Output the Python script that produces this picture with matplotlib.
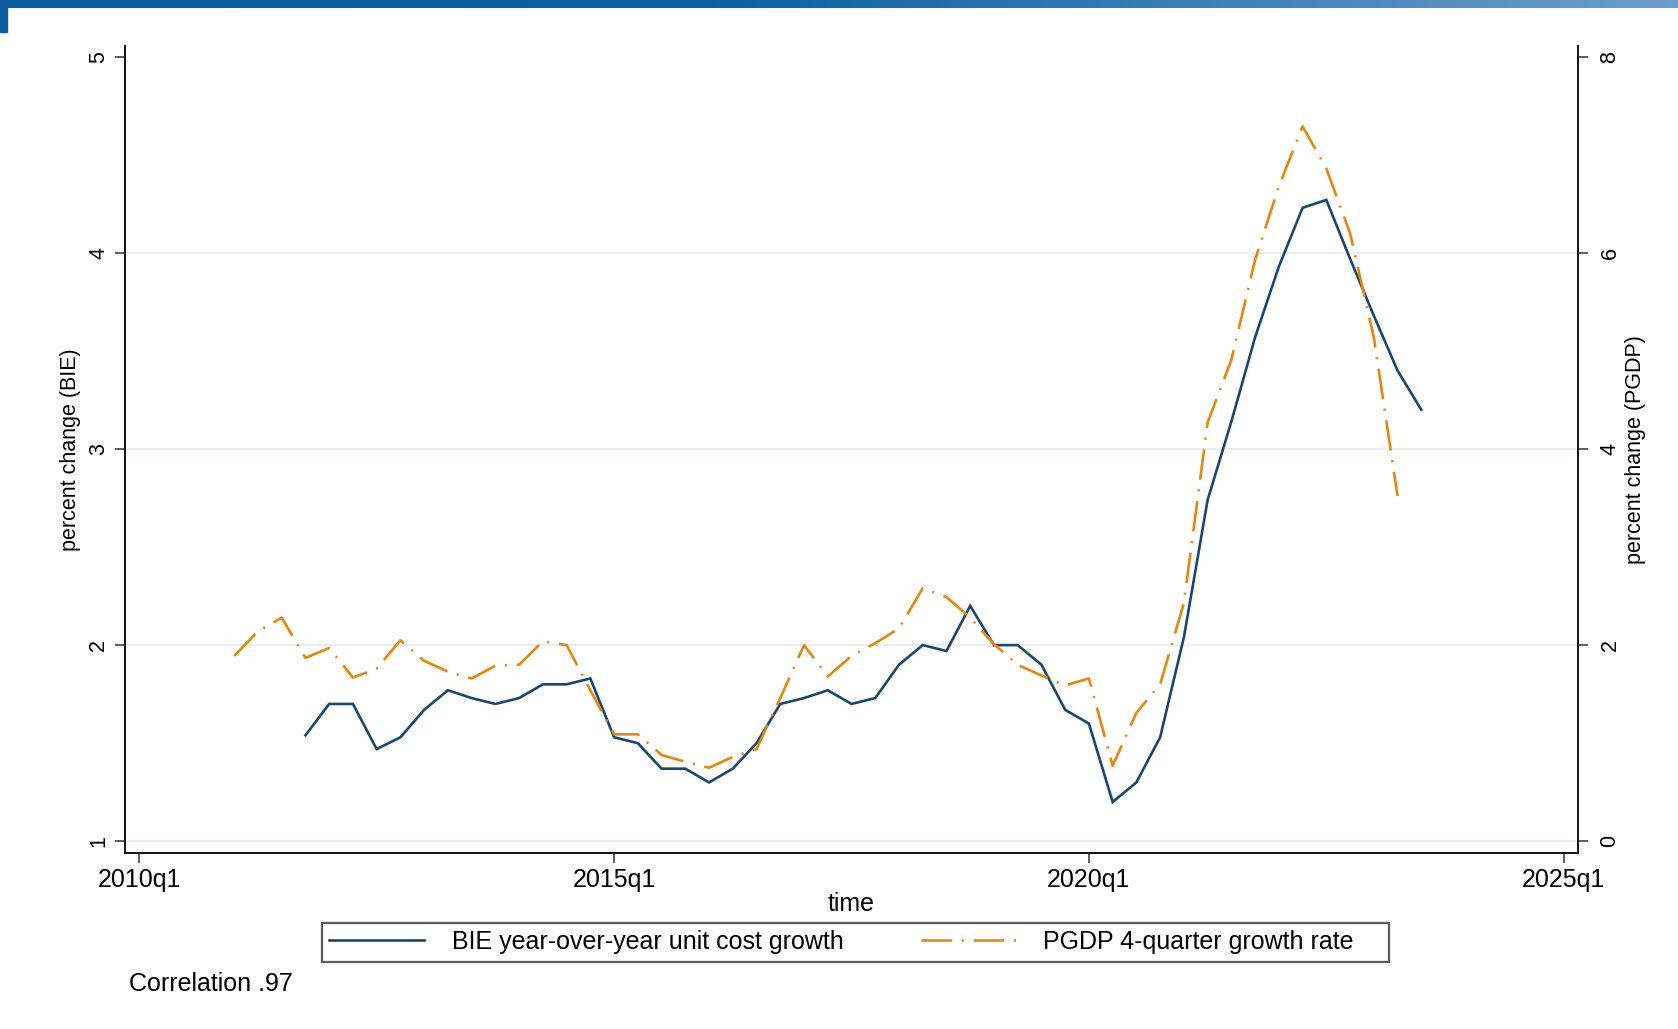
"""
BIE unit cost growth vs PGDP 4-quarter growth, Stata-style twin-axis line chart.
Saves out.png.
"""

import numpy as np
import matplotlib.pyplot as plt
from matplotlib.colors import LinearSegmentedColormap
from matplotlib.patches import Rectangle

# quarter index 0 = 2010q1
bie_start = 7      # 2011q4
bie = [1.54, 1.70, 1.70, 1.47, 1.53, 1.67, 1.77, 1.73, 1.70, 1.73,
       1.80, 1.80, 1.83, 1.53, 1.50, 1.37, 1.37, 1.30, 1.37, 1.50,
       1.70, 1.73, 1.77, 1.70, 1.73, 1.90, 2.00, 1.97, 2.20, 2.00,
       2.00, 1.90, 1.67, 1.60, 1.20, 1.30, 1.53, 2.04, 2.74, 3.14,
       3.57, 3.93, 4.23, 4.27, 3.97, 3.68, 3.40, 3.20]

pgdp_start = 4     # 2011q1
pgdp = [1.89, 2.14, 2.28, 1.87, 1.97, 1.67, 1.76, 2.05, 1.84, 1.73,
        1.66, 1.79, 1.80, 2.04, 2.00, 1.54, 1.09, 1.09, 0.88, 0.81,
        0.75, 0.86, 0.94, 1.46, 2.00, 1.68, 1.89, 2.02, 2.17, 2.58,
        2.49, 2.28, 2.01, 1.80, 1.69, 1.59, 1.66, 0.77, 1.31, 1.60,
        2.43, 4.27, 4.91, 5.93, 6.68, 7.29, 6.86, 6.20, 5.14, 3.52]

xtick_pos = [0, 20, 40, 60]
xtick_labels = ['2010q1', '2015q1', '2020q1', '2025q1']
left_ticks = [1, 2, 3, 4, 5]
right_ticks = [0, 2, 4, 6, 8]

NAVY = '#1a476f'
ORANGE = '#e8870e'
FONT = 'Liberation Sans'

plt.rcParams['font.family'] = [FONT, 'DejaVu Sans']
plt.rcParams['lines.scale_dashes'] = False

W, H = 1678, 1029
fig = plt.figure(figsize=(W / 100, H / 100), dpi=100)

# plot region
ax = fig.add_axes([125 / W, 1 - 853 / H, (1578 - 125) / W, (853 - 46) / H])
ax2 = ax.twinx()

x_bie = np.arange(bie_start, bie_start + len(bie))
x_pgdp = np.arange(pgdp_start, pgdp_start + len(pgdp))

ax.plot(x_bie, bie, color=NAVY, lw=1.9, solid_joinstyle='miter',
        label='BIE year-over-year unit cost growth', zorder=3)
ax2.plot(x_pgdp, pgdp, color=ORANGE, lw=1.9, dashes=(22, 7, 1.5, 7),
         label='PGDP 4-quarter growth rate    ', zorder=3)

lo, hi = 0.94, 5.055
ax.set_ylim(lo, hi)
ax2.set_ylim(2 * (lo - 1), 2 * (hi - 1))
ax.set_xlim(-0.6, 60.6)

ax.set_yticks(left_ticks)
ax2.set_yticks(right_ticks)
ax.set_xticks(xtick_pos)
ax.set_xticklabels(xtick_labels)

for a in (ax, ax2):
    a.spines['top'].set_visible(False)
    for s in a.spines.values():
        s.set_linewidth(1.4)
        s.set_color('#111111')
    a.tick_params(axis='y', length=7.5, width=1.2, color='#444444',
                  labelsize=15.5, pad=4)
ax2.spines['left'].set_visible(False)
ax.spines['right'].set_visible(False)
ax2.tick_params(axis='y', pad=8)
ax.tick_params(axis='x', length=7.5, width=1.2, color='#444444',
               labelsize=18, pad=3.5)

for lab in ax.get_yticklabels():
    lab.set_rotation(90)
    lab.set_va('center')
    lab.set_ha('right')
for lab in ax2.get_yticklabels():
    lab.set_rotation(90)
    lab.set_va('center')
    lab.set_ha('left')

# light gridlines, none at the top tick
ax.grid(axis='y', color='#e8eff1', lw=1.5, zorder=0)
ax.get_ygridlines()[-1].set_visible(False)
ax.set_axisbelow(True)

ax.set_xlabel('time', fontsize=18, labelpad=0)
ax.set_ylabel('percent change (BIE)', fontsize=15.5, labelpad=5)
ax2.set_ylabel('percent change (PGDP)', fontsize=15.5, labelpad=3)

h1, l1 = ax.get_legend_handles_labels()
h2, l2 = ax2.get_legend_handles_labels()
leg = fig.legend(h1 + h2, l1 + l2, loc='center', ncol=2,
                 bbox_to_anchor=(0.5099, 0.0845), fontsize=18,
                 frameon=True, fancybox=False, edgecolor='#333333',
                 handlelength=3.8, handletextpad=1.1, columnspacing=3.1,
                 borderpad=0.3, borderaxespad=0)
leg.get_frame().set_linewidth(1.6)

fig.text(129 / W, 1 - 984 / H, 'Correlation .97', fontsize=18,
         ha='left', va='center')

# top banner gradient
band = fig.add_axes([0, 1 - 8 / H, 1, 8 / H])
cmap = LinearSegmentedColormap.from_list(
    'band', [(0, '#0a5c9e'), (0.42, '#0a5fa2'), (1.0, '#6c9ecb')])
band.imshow(np.linspace(0, 1, 256)[None, :], aspect='auto', cmap=cmap)
band.axis('off')
fig.patches.append(Rectangle((0, 1 - 32 / H), 7 / W, 32 / H,
                             transform=fig.transFigure, color='#0a5c9e'))

fig.savefig('out.png', dpi=100)
